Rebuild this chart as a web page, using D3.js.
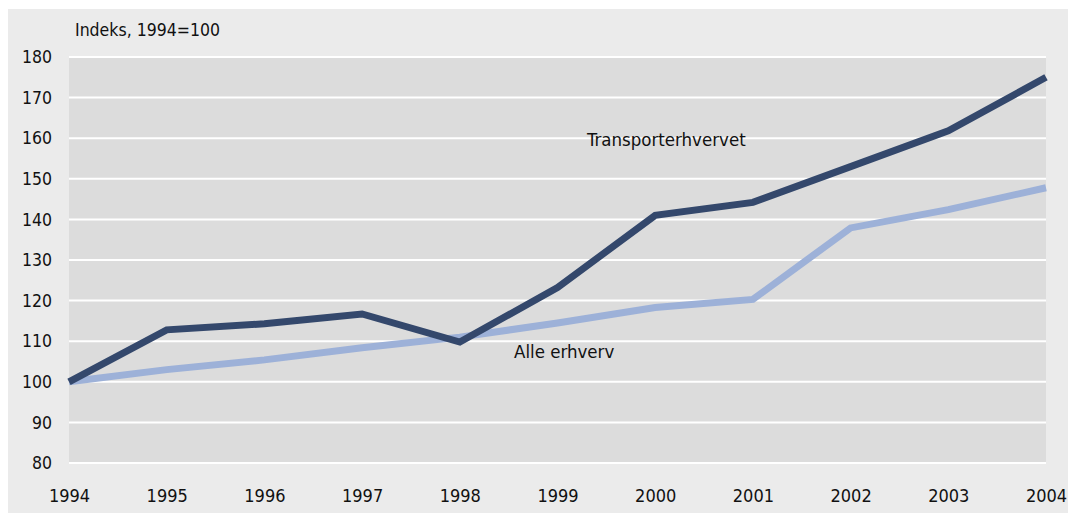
<!DOCTYPE html>
<html lang="no">
<head>
<meta charset="UTF-8">
<title>Indeks, 1994=100</title>
<script src="https://d3js.org/d3.v7.min.js"></script>
<style>
  body { margin: 0; padding: 0; background: #fff; }
  svg text { font-family: "DejaVu Sans Condensed", "DejaVu Sans", sans-serif; font-stretch: condensed; fill: #111; }
</style>
</head>
<body>
<svg id="chart" width="1068" height="513"></svg>
<script>
// Data
const years = [1994, 1995, 1996, 1997, 1998, 1999, 2000, 2001, 2002, 2003, 2004];
const transport = [100, 112.8, 114.3, 116.7, 109.8, 123.2, 141, 144.2, 153, 161.8, 175];
const alleErhverv = [100, 103, 105.4, 108.4, 111, 114.5, 118.3, 120.3, 137.9, 142.4, 147.8];
const yTicks = [80, 90, 100, 110, 120, 130, 140, 150, 160, 170, 180];

const svg = d3.select("#chart");

// bakgrunn
svg.append("rect").attr("x", 8).attr("y", 9).attr("width", 1060).attr("height", 504).attr("fill", "#ebebeb");

const x = d3.scaleLinear().domain([1994, 2004]).range([69, 1046]);
const y = d3.scaleLinear().domain([80, 180]).range([463, 57]);

// plottområde
svg.append("rect")
   .attr("x", x(1994)).attr("y", y(180))
   .attr("width", x(2004) - x(1994)).attr("height", y(80) - y(180))
   .attr("fill", "#dcdcdc");

// rutenett
svg.selectAll(".grid")
   .data(yTicks)
   .enter()
   .append("line")
   .attr("x1", x(1994)).attr("x2", x(2004))
   .attr("y1", d => y(d)).attr("y2", d => y(d))
   .attr("stroke", "#fff").attr("stroke-width", 2);

// y-akse
const yAxis = svg.append("g")
   .attr("transform", `translate(${x(1994)},0)`)
   .call(d3.axisLeft(y).tickValues(yTicks).tickSize(0).tickPadding(17));
yAxis.select(".domain").remove();
yAxis.selectAll("text").attr("font-size", 17.5).attr("font-family", null);

// x-akse
const xAxis = svg.append("g")
   .attr("transform", `translate(0,${y(80)})`)
   .call(d3.axisBottom(x).tickValues(years).tickFormat(d3.format("d")).tickSize(0).tickPadding(26));
xAxis.select(".domain").remove();
xAxis.selectAll("text").attr("font-size", 18).attr("font-family", null);

// linjer
const line = d3.line().x((d, i) => x(years[i])).y(d => y(d));

svg.append("path")
   .datum(alleErhverv)
   .attr("d", line)
   .attr("fill", "none")
   .attr("stroke", "#9db1d8")
   .attr("stroke-width", 7);

svg.append("path")
   .datum(transport)
   .attr("d", line)
   .attr("fill", "none")
   .attr("stroke", "#34486c")
   .attr("stroke-width", 7);

// tekster
svg.append("text").attr("x", 75).attr("y", 36).attr("font-size", 17.5).text("Indeks, 1994=100");
svg.append("text").attr("x", 587).attr("y", 146).attr("font-size", 18.5).text("Transporterhvervet");
svg.append("text").attr("x", 514).attr("y", 358).attr("font-size", 18.5).text("Alle erhverv");
</script>
</body>
</html>
